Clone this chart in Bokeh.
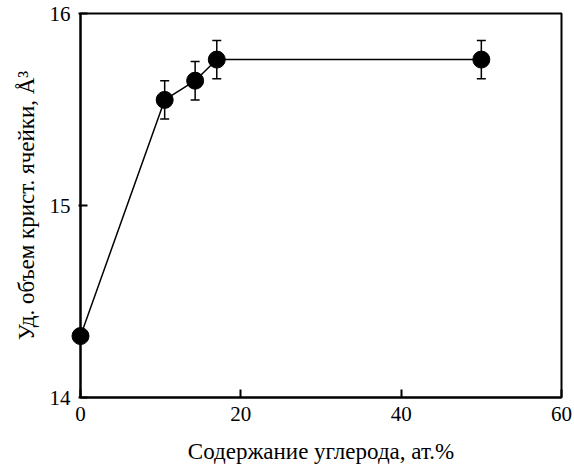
from bokeh.plotting import figure
from bokeh.models import ColumnDataSource, Whisker, TeeHead, FixedTicker, Range1d
from bokeh.embed import file_html
from bokeh.resources import INLINE

# Data
carbon = [0.0, 10.5, 14.3, 17.0, 50.0]          # at.% carbon
volume = [14.32, 15.55, 15.65, 15.76, 15.76]    # specific cell volume, A^3
err_carbon = [10.5, 14.3, 17.0, 50.0]
err_volume = [15.55, 15.65, 15.76, 15.76]
err_size = [0.1, 0.1, 0.1, 0.1]

x_ticks = [0, 20, 40, 60]
y_ticks = [14, 15, 16]

FONT = "Liberation Serif"

p = figure(width=574, height=468, output_backend="svg", toolbar_location=None,
           x_range=Range1d(0, 60), y_range=Range1d(14, 16),
           min_border_left=80, min_border_right=13, min_border_top=13, min_border_bottom=71)

p.grid.visible = False
p.outline_line_color = "black"
p.outline_line_width = 2
p.background_fill_color = "white"
p.border_fill_color = "white"

p.xaxis.ticker = FixedTicker(ticks=x_ticks)
p.yaxis.ticker = FixedTicker(ticks=y_ticks)
for ax in (p.xaxis, p.yaxis):
    ax.axis_line_color = "black"
    ax.axis_line_width = 2
    ax.major_tick_line_color = "black"
    ax.major_tick_line_width = 2
    ax.minor_tick_line_color = None
    ax.major_label_text_font = FONT
    ax.major_label_text_font_size = "21px"
    ax.major_label_text_color = "black"
    ax.axis_label_text_font = FONT
    ax.axis_label_text_font_size = "23px"
    ax.axis_label_text_font_style = "normal"
    ax.axis_label_text_color = "black"

p.xaxis.major_tick_in = 8
p.xaxis.major_tick_out = 0
p.yaxis.major_tick_in = 7
p.yaxis.major_tick_out = 2
p.xaxis.major_label_standoff = 9
p.yaxis.major_label_standoff = 8
p.xaxis.axis_label = "Содержание углерода, ат.%"
p.yaxis.axis_label = "Уд. объем крист. ячейки, Å³"
p.xaxis.axis_label_standoff = 15
p.yaxis.axis_label_standoff = 8

src = ColumnDataSource(dict(x=carbon, y=volume))
esrc = ColumnDataSource(dict(
    x=err_carbon,
    upper=[v + e for v, e in zip(err_volume, err_size)],
    lower=[v - e for v, e in zip(err_volume, err_size)],
))

p.line("x", "y", source=src, line_color="black", line_width=1.5)
w = Whisker(base="x", upper="upper", lower="lower", source=esrc, dimension="height",
            line_color="black", line_width=1.5,
            upper_head=TeeHead(size=9, line_color="black", line_width=1.5),
            lower_head=TeeHead(size=9, line_color="black", line_width=1.5))
p.add_layout(w)
p.scatter("x", "y", source=src, size=17, fill_color="black", line_color="black",
          level="overlay")

open("out.html", "w").write(file_html(p, INLINE))
